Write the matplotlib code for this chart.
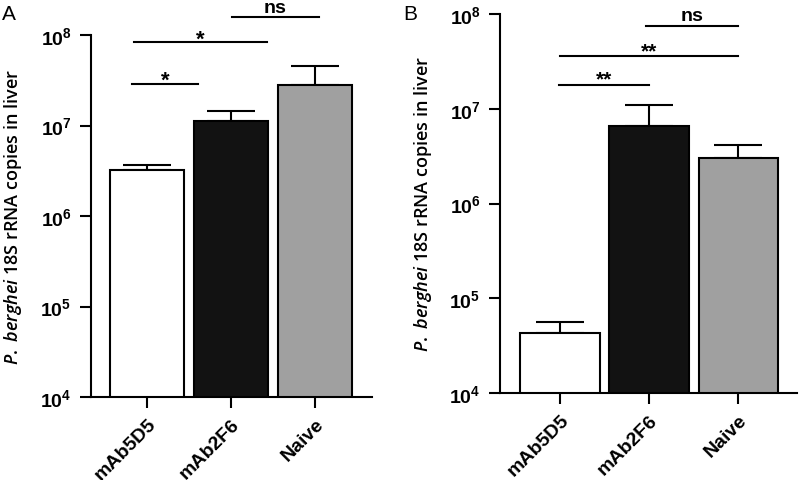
import numpy as np
import matplotlib.pyplot as plt

plt.rcParams['font.family'] = 'Liberation Sans'
plt.rcParams['mathtext.fontset'] = 'custom'
plt.rcParams['mathtext.it'] = 'Open Sans:italic:semibold'
plt.rcParams['mathtext.rm'] = 'Open Sans:semibold'
plt.rcParams['mathtext.bf'] = 'Liberation Sans:bold'

groups = ['mAb5D5', 'mAb2F6', 'Naive']
colors = ['white', '#121212', '#a0a0a0']

# panel A
means_a = [3.2e6, 1.12e7, 2.8e7]
err_a = [0.5e6, 0.33e7, 1.7e7]
# (from, to, label, height)
sig_a = [(-0.18, 0.61, '*', 2.9e7), (-0.15, 1.43, '*', 8.3e7), (1.01, 2.05, 'ns', 1.58e8)]

# panel B
means_b = [4.3e4, 6.6e6, 3.0e6]
err_b = [1.3e4, 4.4e6, 1.1e6]
sig_b = [(-0.01, 1.0, '**', 1.8e7), (0.0, 2.0, '**', 3.6e7), (0.97, 2.0, 'ns', 7.5e7)]

fig = plt.figure(figsize=(8, 4.81), dpi=100)
ax_a = fig.add_axes([91/800, 1-398/481, 281/800, 362/481])
ax_b = fig.add_axes([500/800, 1-394/481, 297/800, 379/481])

ylab = r'$\it{P.\ berghei}$ 18S rRNA copies in liver'

def draw_panel(ax, means, errs, sigs, xlim, label_x, star_size):
    x = np.arange(len(groups))
    ax.bar(x, means, width=0.89, color=colors, edgecolor='black', linewidth=1.5, zorder=2)
    for xi, m, e in zip(x, means, errs):
        ax.errorbar(xi, m, yerr=[[0], [e]], fmt='none', ecolor='black',
                    elinewidth=1.5, capsize=17, capthick=1.5, zorder=1)
    ax.set_yscale('log')
    ax.set_ylim(1e4, 1e8)
    ax.set_xlim(*xlim)
    ax.set_yticks([1e4, 1e5, 1e6, 1e7, 1e8])
    ax.set_yticklabels([r'$\mathbf{10^{%d}}$' % k for k in range(4, 9)])
    ax.minorticks_off()
    ax.set_xticks(x)
    ax.set_xticklabels(groups, rotation=45, ha='right', rotation_mode='anchor',
                       fontsize=14, fontweight='bold')
    for lab in ax.get_yticklabels():
        lab.set_fontsize(14)
    ax.tick_params(axis='both', direction='out', length=8, width=1.5)
    ax.tick_params(axis='y', pad=6)
    ax.tick_params(axis='x', pad=5)
    for s in ['top', 'right']:
        ax.spines[s].set_visible(False)
    for s in ['left', 'bottom']:
        ax.spines[s].set_linewidth(1.5)
    ax.set_ylabel(ylab, fontsize=13, family='Open Sans', fontweight='semibold')
    ax.yaxis.set_label_coords(label_x, 0.5)
    for x0, x1, lab, yy in sigs:
        ax.plot([x0, x1], [yy, yy], color='black', lw=1.5, clip_on=False)
        if lab == 'ns':
            off, fs = 5.5, 14
        else:
            off, fs = -2 if star_size == 16 else 0, star_size
        ax.annotate(lab, xy=((x0 + x1) / 2, yy), xytext=(0, off * 0.72),
                    textcoords='offset points', ha='center', va='baseline',
                    fontsize=fs, fontweight='bold', annotation_clip=False)

draw_panel(ax_a, means_a, err_a, sig_a, (-0.667, 2.68), -67/281, 16)
draw_panel(ax_b, means_b, err_b, sig_b, (-0.674, 2.66), -66/297, 15)

fig.text(0.002, 0.99, 'A', fontsize=15, va='top', ha='left')
fig.text(403/800, 0.99, 'B', fontsize=15, va='top', ha='left')

fig.savefig('out.png', dpi=100)
